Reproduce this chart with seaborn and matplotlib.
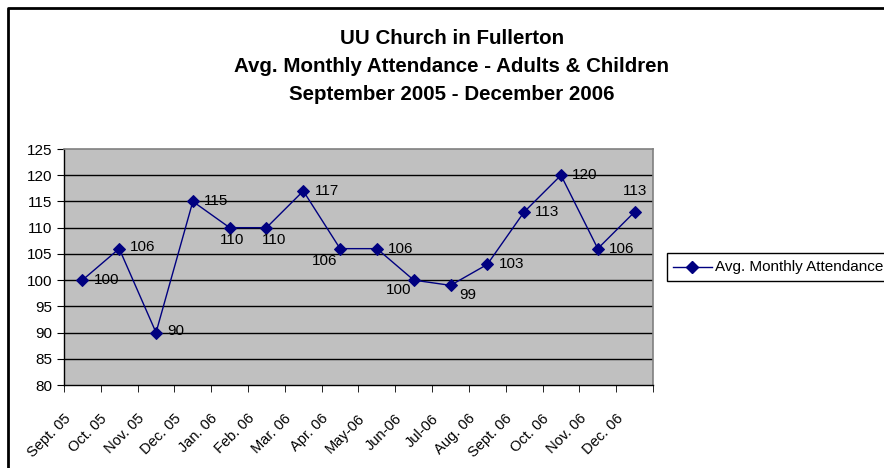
import matplotlib
matplotlib.use("Agg")
import matplotlib.pyplot as plt
import matplotlib.transforms as mtransforms
import seaborn as sns
import pandas as pd
from matplotlib.patches import Rectangle

months = ["Sept. 05", "Oct. 05", "Nov. 05", "Dec. 05", "Jan. 06", "Feb. 06", "Mar. 06",
          "Apr. 06", "May-06", "Jun-06", "Jul-06", "Aug. 06", "Sept. 06", "Oct. 06",
          "Nov. 06", "Dec. 06"]
attendance = [100, 106, 90, 115, 110, 110, 117, 106, 106, 100, 99, 103, 113, 120, 106, 113]
y_ticks = [80, 85, 90, 95, 100, 105, 110, 115, 120, 125]
series_name = "Avg. Monthly Attendance"
title_lines = ["UU Church in Fullerton",
               "Avg. Monthly Attendance - Adults & Children",
               "September 2005 - December 2006"]

# label offsets in points (dx, dy, ha, va)
label_pos = [
    (8, 0, "left", "center"), (8, 1, "left", "center"), (8, 1, "left", "center"),
    (8, 0, "left", "center"), (2, -4, "center", "top"), (-3, -4, "left", "top"),
    (8, 0, "left", "center"), (-2, -4, "right", "top"), (8, 0, "left", "center"),
    (-2, -2, "right", "top"), (6, -2, "left", "top"), (8, 0, "left", "center"),
    (8, 0, "left", "center"), (8, 0, "left", "center"), (8, 0, "left", "center"),
    (0, 15, "center", "center"),
]

plt.rcParams["font.family"] = ["Liberation Sans", "DejaVu Sans"]

df = pd.DataFrame({"idx": range(len(months)), "val": attendance})

fig = plt.figure(figsize=(8.84, 4.68), dpi=100)
ax = fig.add_axes([64 / 884, 1 - 385 / 468, (653 - 64) / 884, (385 - 149) / 468])
ax.set_facecolor("#C0C0C0")

sns.lineplot(data=df, x="idx", y="val", ax=ax, color="#000080", marker="D",
             markersize=6, markeredgecolor="#000080", linewidth=1.0,
             label=series_name, legend=False, zorder=3)

ax.set_xlim(-0.5, len(months) - 0.5)
ax.set_ylim(80, 125)
ax.set_yticks(y_ticks)
ax.set_yticklabels([str(v) for v in y_ticks], fontsize=11)
for v in y_ticks[1:-1]:
    ax.axhline(v, color="black", linewidth=1.0, zorder=1)

ax.set_xticks(range(len(months)))
ax.set_xticklabels(months, rotation=45, ha="right", va="top", rotation_mode="anchor",
                   fontsize=10.5, family=["Liberation Sans Narrow", "Liberation Sans", "DejaVu Sans"])
ax.tick_params(axis="x", which="major", length=0, pad=14)
shift = mtransforms.ScaledTranslation(-0.19, -0.07, fig.dpi_scale_trans)
for lbl in ax.get_xticklabels():
    lbl.set_transform(lbl.get_transform() + shift)
ax.set_xticks([i - 0.5 for i in range(len(months) + 1)], minor=True)
ax.tick_params(axis="x", which="minor", length=5, color="black", direction="out")
ax.tick_params(axis="y", length=5, color="black", direction="out", pad=3.5)
ax.set_xlabel("")
ax.set_ylabel("")

for s in ["top", "right"]:
    ax.spines[s].set_color("#808080")
    ax.spines[s].set_linewidth(1.2)
for s in ["left", "bottom"]:
    ax.spines[s].set_color("black")
    ax.spines[s].set_linewidth(1.0)

for i, v in enumerate(attendance):
    dx, dy, ha, va = label_pos[i]
    ax.annotate(str(v), (i, v), xytext=(dx, dy), textcoords="offset points",
                ha=ha, va=va, fontsize=11, color="black", zorder=4)

for line_text, ypix in zip(title_lines, [38, 66, 94]):
    fig.text(452 / 884, 1 - ypix / 468, line_text, ha="center", va="center",
             fontsize=14.8, fontweight="bold")

# legend box
lx0, ly0, lx1, ly1 = 667, 253, 900, 281
fig.patches.append(Rectangle((lx0 / 884, 1 - ly1 / 468), (lx1 - lx0) / 884, (ly1 - ly0) / 468,
                             transform=fig.transFigure, facecolor="white",
                             edgecolor="black", linewidth=1.0, clip_on=False))
leg_line = plt.Line2D([673 / 884, 692 / 884, 712 / 884], [1 - 267 / 468] * 3,
                      transform=fig.transFigure, color="#000080", linewidth=1.0,
                      marker="D", markersize=6, markevery=[1],
                      markeredgecolor="#000080")
fig.lines.append(leg_line)
fig.text(715 / 884, 1 - 267 / 468, series_name, ha="left", va="center", fontsize=11)

# outer chart border
fig.lines.append(plt.Line2D([8 / 884, 8 / 884, 1.0], [0.0, 1 - 8 / 468, 1 - 8 / 468],
                            transform=fig.transFigure, color="black", linewidth=2.0))

fig.savefig("out.png", dpi=100)
